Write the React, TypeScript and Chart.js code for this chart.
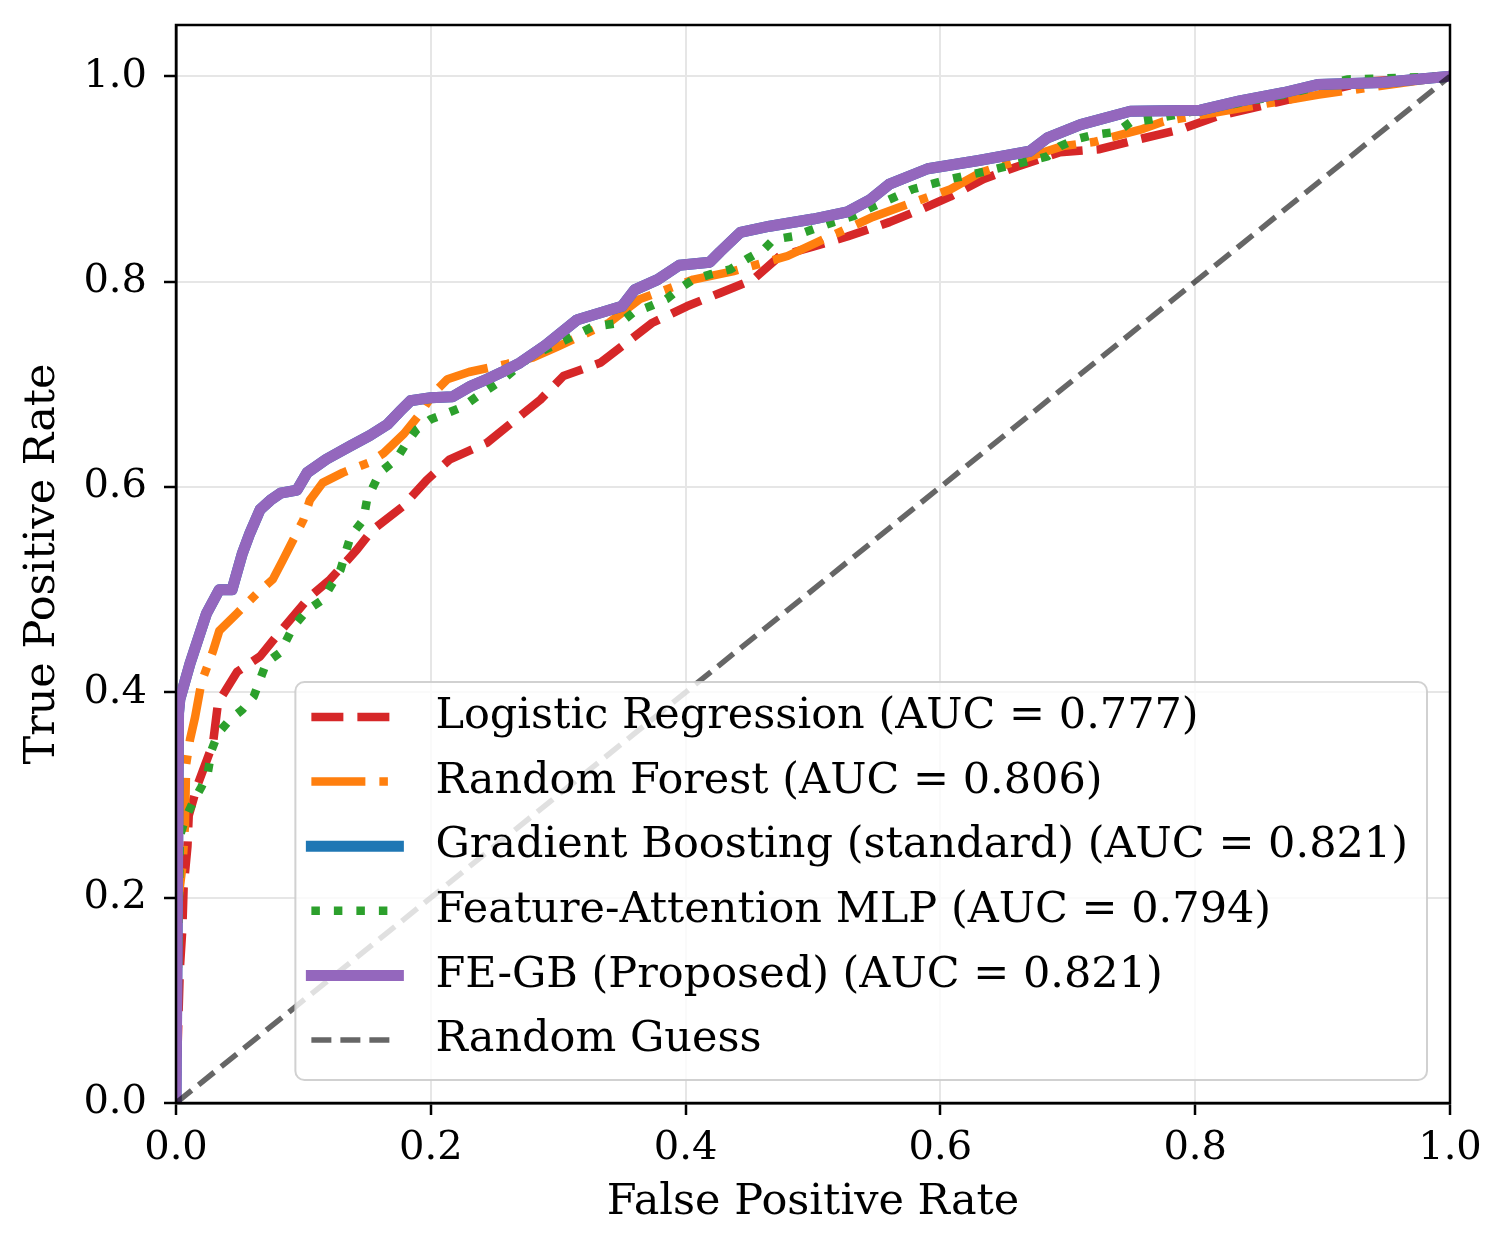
import React, { useEffect, useRef } from 'react';
import Chart from 'chart.js/auto';

const SERIF = '"DejaVu Serif", serif';

// ROC curves (false positive rate -> true positive rate)
const lrFpr = [0, 0.003, 0.005, 0.006, 0.009, 0.01, 0.017, 0.029, 0.033, 0.048, 0.066, 0.083, 0.105, 0.121, 0.142, 0.154, 0.178, 0.197, 0.215, 0.244, 0.264, 0.286, 0.304, 0.333, 0.354, 0.374, 0.401, 0.427, 0.453, 0.474, 0.5, 0.527, 0.56, 0.584, 0.608, 0.634, 0.66, 0.694, 0.725, 0.757, 0.788, 0.817, 0.865, 0.935, 1];
const lrTpr = [0, 0.13, 0.17, 0.21, 0.25, 0.28, 0.31, 0.35, 0.39, 0.42, 0.435, 0.461, 0.493, 0.51, 0.539, 0.558, 0.581, 0.607, 0.627, 0.643, 0.663, 0.685, 0.708, 0.721, 0.741, 0.76, 0.776, 0.789, 0.802, 0.825, 0.834, 0.844, 0.858, 0.87, 0.883, 0.9, 0.912, 0.926, 0.929, 0.939, 0.948, 0.961, 0.975, 0.995, 1];

const rfFpr = [0, 0.002, 0.005, 0.007, 0.008, 0.011, 0.015, 0.02, 0.029, 0.034, 0.048, 0.064, 0.076, 0.084, 0.1, 0.105, 0.115, 0.131, 0.152, 0.163, 0.179, 0.192, 0.202, 0.213, 0.23, 0.26, 0.28, 0.3, 0.34, 0.364, 0.406, 0.437, 0.48, 0.508, 0.547, 0.578, 0.608, 0.631, 0.696, 0.72, 0.757, 0.775, 0.896, 1];
const rfTpr = [0, 0.2, 0.23, 0.27, 0.33, 0.354, 0.376, 0.41, 0.44, 0.46, 0.477, 0.497, 0.51, 0.529, 0.568, 0.587, 0.604, 0.614, 0.624, 0.633, 0.652, 0.672, 0.691, 0.705, 0.712, 0.72, 0.726, 0.737, 0.76, 0.783, 0.802, 0.81, 0.825, 0.841, 0.863, 0.877, 0.89, 0.906, 0.932, 0.936, 0.948, 0.956, 0.982, 1];

const fegbFpr = [0, 0.002, 0.003, 0.011, 0.024, 0.034, 0.044, 0.052, 0.058, 0.066, 0.074, 0.082, 0.095, 0.103, 0.118, 0.137, 0.152, 0.166, 0.176, 0.184, 0.2, 0.217, 0.231, 0.244, 0.256, 0.27, 0.29, 0.315, 0.35, 0.36, 0.378, 0.395, 0.419, 0.427, 0.443, 0.466, 0.5, 0.527, 0.545, 0.56, 0.59, 0.63, 0.67, 0.684, 0.71, 0.749, 0.804, 0.835, 0.869, 0.896, 0.947, 1];
const fegbTpr = [0, 0.38, 0.393, 0.428, 0.477, 0.5, 0.5, 0.535, 0.555, 0.578, 0.587, 0.594, 0.597, 0.614, 0.627, 0.64, 0.65, 0.661, 0.674, 0.684, 0.687, 0.688, 0.698, 0.705, 0.712, 0.721, 0.738, 0.763, 0.776, 0.792, 0.802, 0.816, 0.819, 0.829, 0.848, 0.854, 0.861, 0.868, 0.88, 0.895, 0.91, 0.918, 0.927, 0.94, 0.953, 0.966, 0.967, 0.976, 0.984, 0.992, 0.994, 1];

// standard GB sits exactly under FE-GB in the figure (same AUC)
const gbFpr = fegbFpr;
const gbTpr = fegbTpr;

const mlpFpr = [0, 0.003, 0.007, 0.013, 0.02, 0.025, 0.028, 0.033, 0.042, 0.052, 0.061, 0.071, 0.082, 0.092, 0.103, 0.115, 0.129, 0.137, 0.147, 0.15, 0.16, 0.173, 0.181, 0.189, 0.2, 0.213, 0.225, 0.236, 0.257, 0.278, 0.307, 0.327, 0.349, 0.359, 0.372, 0.385, 0.396, 0.406, 0.419, 0.435, 0.448, 0.461, 0.469, 0.484, 0.5, 0.516, 0.532, 0.547, 0.578, 0.608, 0.634, 0.684, 0.694, 0.707, 0.72, 0.739, 0.749, 0.765, 0.869, 0.92, 1];
const mlpTpr = [0, 0.26, 0.276, 0.292, 0.308, 0.322, 0.344, 0.36, 0.373, 0.383, 0.396, 0.429, 0.439, 0.464, 0.48, 0.49, 0.519, 0.552, 0.568, 0.588, 0.614, 0.627, 0.643, 0.656, 0.666, 0.672, 0.678, 0.688, 0.705, 0.727, 0.744, 0.756, 0.76, 0.77, 0.776, 0.783, 0.794, 0.802, 0.807, 0.812, 0.822, 0.831, 0.841, 0.844, 0.851, 0.858, 0.864, 0.873, 0.89, 0.9, 0.907, 0.922, 0.932, 0.939, 0.943, 0.946, 0.955, 0.958, 0.982, 0.997, 1];

const randFpr = [0, 1];
const randTpr = [0, 1];

const seriesLabels = [
  'Logistic Regression (AUC = 0.777)',
  'Random Forest (AUC = 0.806)',
  'Gradient Boosting (standard) (AUC = 0.821)',
  'Feature-Attention MLP (AUC = 0.794)',
  'FE-GB (Proposed) (AUC = 0.821)',
  'Random Guess',
];

const toPoints = (xs: number[], ys: number[]) => xs.map((x, i) => ({ x, y: ys[i] }));

// matplotlib-style legend box in the lower right, plus the full axes frame
const frameAndLegend = {
  id: 'frameAndLegend',
  afterDatasetsDraw(chart: any) {
    const { ctx, chartArea: a } = chart;
    const fontSize = 43;
    const rowH = 64.6;
    ctx.save();
    ctx.font = `${fontSize}px ${SERIF}`;
    const textW = Math.max(...chart.data.datasets.map((d: any) => ctx.measureText(d.label).width));
    const w = 16 + 87 + 37 + textW + 19;
    const h = 35 + (chart.data.datasets.length - 1) * rowH + 40;
    const right = a.right - 23;
    const bottom = a.bottom - 23;
    const left = right - w;
    const top = bottom - h;

    ctx.beginPath();
    ctx.roundRect(left, top, w, h, 9);
    ctx.fillStyle = 'rgba(255,255,255,0.8)';
    ctx.fill();
    ctx.lineWidth = 2;
    ctx.strokeStyle = 'rgba(204,204,204,0.9)';
    ctx.stroke();

    chart.data.datasets.forEach((d: any, i: number) => {
      const y = top + 35 + i * rowH;
      ctx.beginPath();
      ctx.setLineDash(d.borderDash || []);
      ctx.lineWidth = d.borderWidth;
      ctx.strokeStyle = d.borderColor;
      ctx.lineCap = d.borderCapStyle || 'butt';
      ctx.moveTo(left + 16, y);
      ctx.lineTo(left + 103, y);
      ctx.stroke();
      ctx.setLineDash([]);
      ctx.fillStyle = '#000';
      ctx.textBaseline = 'middle';
      ctx.textAlign = 'left';
      ctx.fillText(d.label, left + 140, y);
    });
    ctx.restore();
  },
  afterDraw(chart: any) {
    const { ctx, chartArea: a } = chart;
    ctx.save();
    ctx.strokeStyle = '#000';
    ctx.lineWidth = 2.5;
    ctx.strokeRect(a.left, a.top, a.right - a.left, a.bottom - a.top);
    ctx.restore();
  },
};

const App = () => {
  const canvasRef = useRef<HTMLCanvasElement>(null);
  const chartRef = useRef<Chart | null>(null);

  useEffect(() => {
    document.body.style.margin = '0';
    const ctx = canvasRef.current?.getContext('2d');
    if (chartRef.current) chartRef.current.destroy();
    if (!ctx) return;

    chartRef.current = new Chart(ctx, {
      type: 'line',
      data: {
        datasets: [
          {
            label: seriesLabels[0],
            data: toPoints(lrFpr, lrTpr),
            borderColor: '#d62728',
            borderWidth: 8.5,
            borderDash: [32, 14],
            borderCapStyle: 'butt',
            order: 6,
          },
          {
            label: seriesLabels[1],
            data: toPoints(rfFpr, rfTpr),
            borderColor: '#ff7f0e',
            borderWidth: 8.5,
            borderDash: [54, 14, 8.5, 14],
            borderCapStyle: 'butt',
            order: 5,
          },
          {
            label: seriesLabels[2],
            data: toPoints(gbFpr, gbTpr),
            borderColor: '#1f77b4',
            borderWidth: 11,
            borderCapStyle: 'square',
            order: 4,
          },
          {
            label: seriesLabels[3],
            data: toPoints(mlpFpr, mlpTpr),
            borderColor: '#2ca02c',
            borderWidth: 8.5,
            borderDash: [8.5, 14],
            borderCapStyle: 'butt',
            order: 3,
          },
          {
            label: seriesLabels[4],
            data: toPoints(fegbFpr, fegbTpr),
            borderColor: '#9467bd',
            borderWidth: 11,
            borderCapStyle: 'square',
            order: 2,
          },
          {
            label: seriesLabels[5],
            data: toPoints(randFpr, randTpr),
            borderColor: 'rgba(0,0,0,0.6)',
            borderWidth: 5.5,
            borderDash: [20, 9],
            borderCapStyle: 'butt',
            order: 1,
          },
        ],
      },
      options: {
        animation: false,
        responsive: false,
        devicePixelRatio: 1,
        layout: { padding: { top: 25, right: 50, left: 0, bottom: 0 } },
        elements: { point: { radius: 0 }, line: { tension: 0, borderJoinStyle: 'round' } },
        plugins: { legend: { display: false }, tooltip: { enabled: false } },
        scales: {
          x: {
            type: 'linear',
            min: 0,
            max: 1,
            ticks: {
              stepSize: 0.2,
              color: '#000',
              padding: 10,
              font: { family: SERIF, size: 40 },
              callback: (v: any) => Number(v).toFixed(1),
            },
            grid: { color: '#e6e6e6', lineWidth: 2, tickLength: 12, tickColor: '#000', tickWidth: 2.5 },
            border: { color: '#000', width: 2.5 },
            title: {
              display: true,
              text: 'False Positive Rate',
              color: '#000',
              font: { family: SERIF, size: 43 },
              padding: { top: 0, bottom: 12 },
            },
            afterFit: (s: any) => {
              s.height = 138;
              s.paddingLeft = 0;
              s.paddingRight = 0;
            },
          },
          y: {
            type: 'linear',
            min: 0,
            max: 1.05,
            ticks: {
              stepSize: 0.2,
              color: '#000',
              padding: 17,
              font: { family: SERIF, size: 40 },
              callback: (v: any) => Number(v).toFixed(1),
            },
            afterBuildTicks: (s: any) => { s.ticks = s.ticks.filter((t: any) => t.value <= 1.0001); },
            grid: { color: '#e6e6e6', lineWidth: 2, tickLength: 12, tickColor: '#000', tickWidth: 2.5 },
            border: { color: '#000', width: 2.5 },
            title: {
              display: true,
              text: 'True Positive Rate',
              color: '#000',
              font: { family: SERIF, size: 43 },
              padding: { top: 17, bottom: 0 },
            },
            afterFit: (s: any) => {
              s.width = 176;
              s.paddingTop = 0;
              s.paddingBottom = 0;
            },
          },
        },
      },
      plugins: [frameAndLegend],
    });

    return () => {
      if (chartRef.current) {
        chartRef.current.destroy();
        chartRef.current = null;
      }
    };
  }, []);

  return (
    <div style={{ width: '1500px', height: '1241px' }}>
      <canvas ref={canvasRef} width={1500} height={1241} style={{ display: 'block' }} />
    </div>
  );
};

export default App;
